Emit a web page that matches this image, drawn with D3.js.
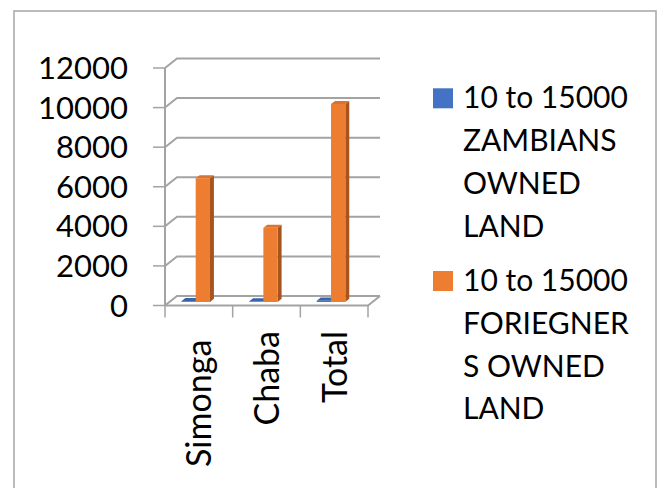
<!DOCTYPE html>
<html><head><meta charset="utf-8">
<script src="https://cdn.jsdelivr.net/npm/d3@7/dist/d3.min.js"></script>
<style>html,body{margin:0;padding:0;background:#fff;}svg{display:block;}text{font-family:Lato,"Open Sans",sans-serif;fill:#000;}</style>
</head><body>
<svg id="c" width="660" height="488"></svg>
<script>
const categories = ["Simonga ", "Chaba", "Total"];
const seriesNames = ["10 to 15000 ZAMBIANS OWNED LAND", "10 to 15000 FORIEGNERS OWNED LAND"];
const legendLines = [["10 to 15000", "ZAMBIANS", "OWNED", "LAND"], ["10 to 15000", "FORIEGNER", "S OWNED", "LAND"]];
const zambians = [40, 25, 65];
const foreigners = [6250, 3750, 10000];
const yTicks = [0, 2000, 4000, 6000, 8000, 10000, 12000];
const colors = ["#4472c4", "#ed7d31"];
const topColors = ["#3a63ad", "#d9732e"];
const sideColors = ["#2f5597", "#a8541e"];

const svg = d3.select("#c");
svg.append("rect").attr("x", 14).attr("y", 11).attr("width", 642).attr("height", 500)
  .attr("fill", "#fff").attr("stroke", "#ababab").attr("stroke-width", 1.6);

const x = d3.scaleBand().domain(categories).range([165, 368]).padding(0);
const y = d3.scaleLinear().domain([0, 12000]).range([305.5, 68]);
const DX = 12, DY = -9.5;
const P = (px, v, z) => [px + z * DX, y(v) + z * DY];
const bw = x.bandwidth();
const x1 = d3.scaleBand().domain([0, 1]).range([0.177 * bw, 0.599 * bw]).padding(0);
const gridCol = "#a3a3a3";

const g = svg.append("g");
yTicks.forEach(t => {
  const a = P(165, t, 0), b = P(165, t, 1), c = P(368, t, 1);
  g.append("path").attr("d", `M${a}L${b}L${c}`).attr("fill", "none")
    .attr("stroke", gridCol).attr("stroke-width", 2);
});
{
  const a = P(165, 0, 0), b = P(368, 0, 0), c = P(368, 0, 1);
  g.append("path").attr("d", `M${a}L${b}L${c}`).attr("fill", "none")
    .attr("stroke", gridCol).attr("stroke-width", 2);
}
g.append("line").attr("x1", 165).attr("x2", 165).attr("y1", y(0)).attr("y2", y(12000))
  .attr("stroke", gridCol).attr("stroke-width", 2);
yTicks.forEach(t => {
  g.append("line").attr("x1", 153).attr("x2", 165).attr("y1", y(t)).attr("y2", y(t))
    .attr("stroke", gridCol).attr("stroke-width", 1.5);
  g.append("text").attr("x", 128).attr("y", y(t) + 11).attr("text-anchor", "end")
    .attr("font-size", 31).text(t);
});
const bounds = categories.map(c => x(c)).concat([368]);
bounds.forEach(b => {
  g.append("line").attr("x1", b).attr("x2", b).attr("y1", y(0)).attr("y2", y(0) + 12)
    .attr("stroke", gridCol).attr("stroke-width", 1.5);
});
categories.forEach(c => {
  g.append("text").attr("transform", "rotate(-90)")
    .attr("x", -331).attr("y", x(c) + bw / 2 + 12.5)
    .attr("text-anchor", "end").attr("font-size", 34)
    .style("white-space", "pre").text(c);
});

const Z0 = 0.37, Z1 = 0.70;
const series = [zambians, foreigners];
const bars = svg.append("g");
series.forEach((vals, si) => {
  vals.forEach((v, ci) => {
    const x0 = x(categories[ci]) + x1(si), xR = x0 + x1.bandwidth();
    const f1 = P(x0, 0, Z0), f2 = P(xR, 0, Z0), f3 = P(xR, v, Z0), f4 = P(x0, v, Z0);
    const b2 = P(xR, 0, Z1), b3 = P(xR, v, Z1), b4 = P(x0, v, Z1);
    bars.append("path").attr("d", `M${f2}L${b2}L${b3}L${f3}Z`).attr("fill", sideColors[si]);
    bars.append("path").attr("d", `M${f4}L${f3}L${b3}L${b4}Z`).attr("fill", topColors[si]);
    bars.append("path").attr("d", `M${f1}L${f2}L${f3}L${f4}Z`).attr("fill", colors[si]);
  });
});

const leg = svg.append("g");
const legTops = [108.3, 291];
legendLines.forEach((lines, si) => {
  leg.append("rect").attr("x", 433).attr("y", legTops[si] - 20).attr("width", 20).attr("height", 20)
    .attr("fill", colors[si]);
  lines.forEach((ln, i) => {
    leg.append("text").attr("x", 463).attr("y", legTops[si] + i * 42.8)
      .attr("font-size", 30).text(ln);
  });
});
</script>
</body></html>
